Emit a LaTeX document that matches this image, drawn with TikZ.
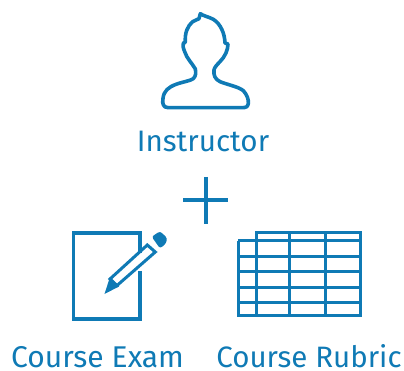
\documentclass[tikz,border=0pt]{standalone}
\usepackage{fontspec}
\setmainfont{Fira Sans}
\definecolor{ink}{HTML}{0F7AB5}
\tikzset{
  lbl/.style={text=ink,font=\fontsize{#1}{34}\selectfont,inner sep=0pt,anchor=base},
  stroke/.style={draw=ink,line width=3.6pt,line join=round}
}
\begin{document}
\begin{tikzpicture}[x=1pt,y=-1pt]
\useasboundingbox (0,0) rectangle (404,371);
% person
\begin{scope}[shift={(150,0)},x=0.3333pt,y=-0.3333pt]
\draw[stroke] (55,323) .. controls (40,323) and (36,312) .. (39,295)
 .. controls (42,272) and (55,262) .. (78,253)
 .. controls (100,245) and (120,243) .. (130,236)
 .. controls (138,228) and (138,218) .. (136,207)
 .. controls (128,192) and (110,175) .. (104,155)
 .. controls (100,145) and (97,135) .. (100,129) -- (106,127)
 .. controls (104,100) and (112,78) .. (128,65) -- (147,56) -- (151,41)
 .. controls (160,48) and (175,50) .. (190,58)
 .. controls (212,72) and (224,100) .. (225,129) -- (234,132)
 .. controls (234,150) and (225,170) .. (210,185)
 .. controls (200,195) and (193,203) .. (192,210)
 .. controls (190,225) and (195,238) .. (210,245)
 .. controls (235,255) and (265,260) .. (280,272)
 .. controls (292,285) and (296,300) .. (295,310)
 .. controls (294,320) and (288,323) .. (278,323) -- cycle;
\end{scope}
\node[lbl=29.6] (instr) at (203,152) {Instructor};
% plus
\draw[ink,line width=4pt] (183.3,200) -- (227.7,200);
\draw[ink,line width=4pt] (205.7,177) -- (205.7,224);
% page
\draw[stroke,line join=miter] (140,271) -- (140,319) -- (73.5,319) -- (73.5,233) -- (140,233) -- (140,253);
% pencil
\draw[stroke,line width=3pt,line join=miter] (147.3,245) -- (155.3,252) -- (117,285.5) -- (110,279) -- cycle;
\fill[ink] (110,277) -- (119,286.5) -- (104.5,294) -- cycle;
\fill[ink,rounded corners=2.5pt] (151.7,236.7) -- (160,231.2) -- (167.2,238) -- (166,243.5) -- (160,248.5) -- cycle;
% table
\begin{scope}[stroke,line width=3pt,draw=ink]
\draw[line join=miter] (238,241) -- (238,315) -- (360,315) -- (360,233) -- (256,233) -- (256,315);
\draw (289,233) -- (289,315);
\draw (325,233) -- (325,315);
\draw (238,241) -- (360,241);
\draw (238,257) -- (360,257);
\draw (238,272) -- (360,272);
\draw (238,287) -- (360,287);
\draw (238,302) -- (360,302);
\end{scope}
\node[lbl=30] (exam) at (97.5,367) {Course Exam};
\node[lbl=29.5] (rubric) at (309,367) {Course Rubric};
\end{tikzpicture}
\end{document}
